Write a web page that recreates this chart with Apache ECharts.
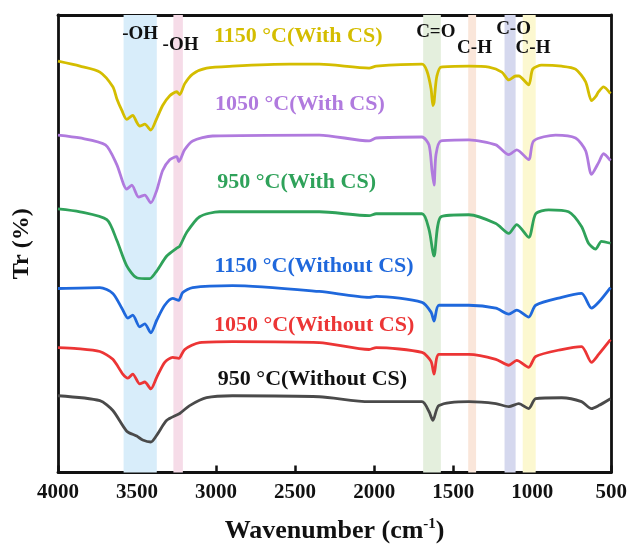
<!DOCTYPE html>
<html>
<head>
<meta charset="utf-8">
<script src="https://cdn.jsdelivr.net/npm/echarts@6/dist/echarts.min.js"></script>
<style>
  html, body { margin: 0; padding: 0; background: #fff; }
  #chart { width: 630px; height: 549px; }
</style>
</head>
<body>
<div id="chart"></div>
<script>
// FTIR spectra, wavenumber (cm-1) vs. transmittance (offset, arbitrary units)
const xTicks = [4000, 3500, 3000, 2500, 2000, 1500, 1000, 500];

const seriesNames = [
  '1150 °C(With CS)', '1050 °C(With CS)', '950 °C(With CS)',
  '1150 °C(Without CS)', '1050 °C(Without CS)', '950 °C(Without CS)'
];
const seriesColors = ['#d4bd00', '#b07ade', '#2fa25a', '#1f68dc', '#ec3535', '#4a4a4a'];
const captionColors = ['#d4bd00', '#b07ade', '#2fa25a', '#1f68dc', '#ec3535', '#111111'];

const spec1150With = [
  [4000,418],[3861,413],[3735,407],[3653,392],[3628,380],[3596,368],[3565,359],[3527,363],
  [3502,356],[3483,352],[3451,354],[3413,348],[3375,360],[3338,373],[3293,383],[3249,387],
  [3230,384],[3199,395],[3148,405],[3060,411],[2896,413],[2536,415],[2347,415],[2032,411],
  [1987,413],[1697,415],[1666,408],[1640,390],[1628,373],[1621,376],[1615,387],[1603,403],
  [1577,412],[1401,413],[1274,412],[1192,407],[1148,399],[1104,403],[1085,403],[1022,394],
  [997,410],[940,414],[814,413],[726,410],[662,397],[625,378],[599,382],[580,387],[549,392],[505,385]
];
const spec1050With = [
  [4000,343],[3861,340],[3700,333],[3628,313],[3565,288],[3533,292],[3490,280],[3451,282],
  [3413,274],[3375,287],[3338,307],[3293,318],[3249,321],[3236,316],[3199,328],[3148,337],
  [3022,342],[2347,343],[2032,337],[1987,340],[1697,341],[1653,333],[1634,307],[1621,292],
  [1609,323],[1577,337],[1401,338],[1230,333],[1148,323],[1098,328],[1022,318],[991,337],
  [852,343],[726,340],[662,327],[625,303],[580,315],[549,324],[505,317]
];
const spec950With = [
  [4000,268],[3861,265],[3691,257],[3628,236],[3565,210],[3502,198],[3420,197],[3375,205],
  [3312,220],[3249,228],[3230,230],[3186,244],[3104,260],[2978,265],[2347,265],[2032,261],
  [1987,263],[1697,263],[1653,247],[1621,220],[1577,260],[1401,262],[1230,253],[1148,243],
  [1098,252],[1022,239],[978,263],[896,267],[770,265],[688,250],[644,233],[599,227],
  [562,235],[505,233]
];
const spec1150Without = [
  [4000,187],[3735,188],[3653,182],[3596,167],[3558,157],[3527,160],[3483,148],[3451,151],
  [3413,142],[3375,155],[3325,170],[3274,177],[3236,175],[3211,183],[3148,188],[2896,190],
  [2347,184],[2032,178],[1987,179],[1697,173],[1640,163],[1621,154],[1590,170],[1401,170],
  [1230,167],[1148,161],[1098,165],[1022,158],[978,170],[814,178],[688,182],[625,167],
  [580,173],[505,188]
];
const spec1050Without = [
  [4000,127],[3880,126],[3735,123],[3653,115],[3590,100],[3558,96],[3527,100],[3483,90],
  [3451,92],[3413,85],[3375,97],[3325,112],[3274,117],[3236,116],[3199,125],[3104,132],
  [2896,133],[2347,132],[2032,125],[1987,127],[1697,122],[1640,113],[1621,100],[1590,120],
  [1401,120],[1230,115],[1148,109],[1098,114],[1022,107],[978,118],[814,125],[688,128],
  [625,112],[580,120],[505,135]
];
const spec950Without = [
  [4000,78],[3735,73],[3653,63],[3565,42],[3502,37],[3464,33],[3413,31],[3375,38],
  [3312,53],[3230,60],[3167,68],[3060,76],[2896,78],[2347,77],[2032,72],[1697,72],
  [1653,62],[1628,53],[1590,68],[1401,72],[1230,70],[1148,67],[1085,70],[1022,65],
  [978,75],[814,76],[688,72],[625,65],[580,68],[505,75]
];
const spectra = [spec1150With, spec1050With, spec950With, spec1150Without, spec1050Without, spec950Without];

// anchor [wavenumber, level] of each curve's caption
const captionAnchors = [[2480,443],[2470,374],[2490,295],[2380,210],[2380,150],[2390,95]];

// absorption bands: [from, to] in cm-1, with assignment
const bandRanges = [[3585,3375],[3270,3210],[1690,1578],[1405,1355],[1175,1105],[1060,978]];
const bandColors = ['#d8edfa', '#f6dce8', '#e4efdd', '#fae6da', '#d5d8ee', '#fcf8d0'];
const bandLabels = ['-OH', '-OH', 'C=O', 'C-H', 'C-O', 'C-H'];
const bandLabelAnchors = [[3480,446],[3225,434],[1610,448],[1365,431],[1118,451],[995,431]];

const FONT = '"Liberation Serif", "Times New Roman", serif';

const chart = echarts.init(document.getElementById('chart'), null, { renderer: 'canvas' });

const series = spectra.map((d, i) => ({
  type: 'line',
  name: seriesNames[i],
  data: d,
  symbol: 'none',
  smooth: 0.25,
  lineStyle: { color: seriesColors[i], width: 2.8 },
  z: 3,
  markPoint: {
    symbol: 'circle', symbolSize: 0, silent: true,
    label: {
      show: true, formatter: seriesNames[i], color: captionColors[i],
      fontFamily: FONT, fontWeight: 'bold', fontSize: 22, position: 'inside'
    },
    data: [{ coord: captionAnchors[i] }]
  }
}));

// shaded bands and their labels
series.push({
  type: 'line',
  data: [],
  z: 1,
  markArea: {
    silent: true,
    label: { show: false },
    data: bandRanges.map((r, i) => [
      { xAxis: r[0], itemStyle: { color: bandColors[i], opacity: 1 } },
      { xAxis: r[1] }
    ])
  },
  markPoint: {
    symbol: 'circle', symbolSize: 0, silent: true,
    label: {
      show: true, position: 'inside', color: '#111',
      fontFamily: FONT, fontWeight: 'bold', fontSize: 19
    },
    data: bandLabelAnchors.map((c, i) => ({ coord: c, label: { formatter: bandLabels[i] } }))
  }
});

const frameLine = { show: true, onZero: false, lineStyle: { color: '#111', width: 2.8 } };

chart.setOption({
  animation: false,
  backgroundColor: '#fff',
  grid: { left: 58, right: 17, top: 15, bottom: 69 },
  xAxis: [{
    type: 'value', inverse: true, min: 500, max: 4000, interval: 500,
    name: '{a|Wavenumber (cm}{s|-1}{a|)}',
    nameLocation: 'middle', nameGap: 44,
    nameTextStyle: {
      rich: {
        a: { fontFamily: FONT, fontWeight: 'bold', fontSize: 26, color: '#111' },
        s: { fontFamily: FONT, fontWeight: 'bold', fontSize: 15, color: '#111', verticalAlign: 'top', padding: [0, 0, 14, 0] }
      }
    },
    axisLine: frameLine,
    axisTick: { show: true, inside: true, length: 7, lineStyle: { color: '#111', width: 2.5 } },
    axisLabel: {
      fontFamily: FONT, fontWeight: 'bold', fontSize: 21, color: '#111', margin: 10,
      formatter: v => xTicks.includes(v) ? String(v) : ''
    },
    splitLine: { show: false }
  }, {
    type: 'value', inverse: true, min: 500, max: 4000, position: 'top',
    axisLine: frameLine,
    axisTick: { show: false }, axisLabel: { show: false }, splitLine: { show: false }
  }],
  yAxis: [{
    type: 'value', min: 0, max: 465,
    name: 'Tr (%)', nameLocation: 'middle', nameGap: 24,
    nameTextStyle: { fontFamily: FONT, fontWeight: 'bold', fontSize: 24, color: '#111' },
    axisLine: frameLine,
    axisTick: { show: false }, axisLabel: { show: false }, splitLine: { show: false }
  }, {
    type: 'value', min: 0, max: 465, position: 'right',
    axisLine: frameLine,
    axisTick: { show: false }, axisLabel: { show: false }, splitLine: { show: false }
  }],
  series: series
});
</script>
</body>
</html>
